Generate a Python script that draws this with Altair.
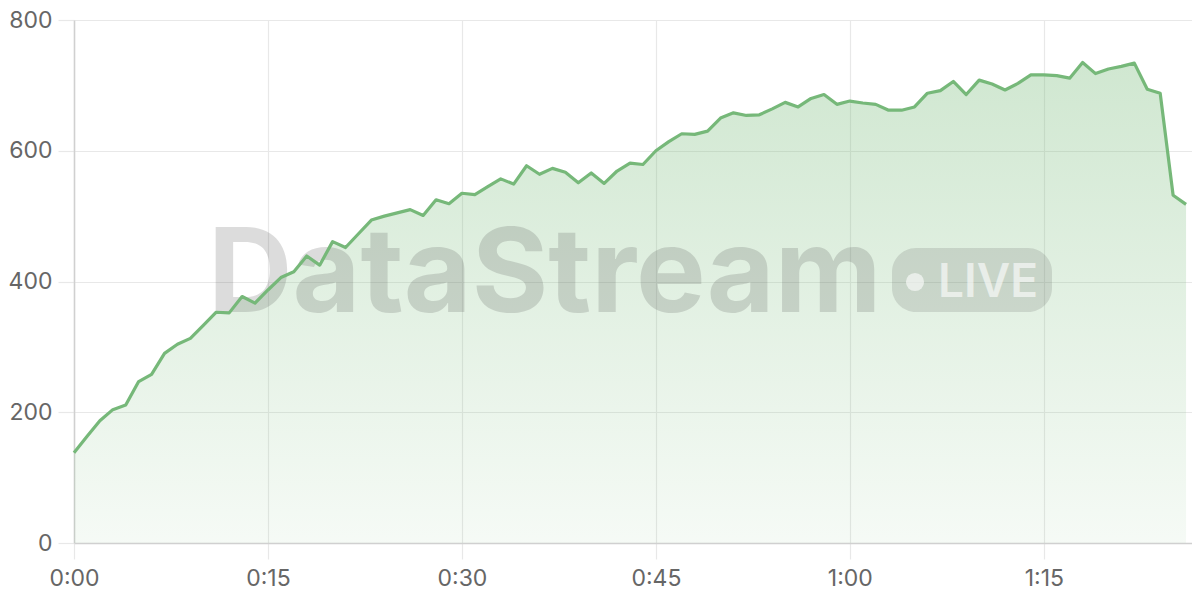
import altair as alt
import pandas as pd

minutes = list(range(87))
values = [138, 163, 187, 204, 211, 247, 258, 290, 304, 313,
          333, 353, 352, 377, 367, 387, 406, 415, 439, 425,
          461, 452, 473, 494, 500, 505, 510, 501, 525, 519,
          535, 533, 545, 557, 549, 577, 564, 573, 567, 551,
          566, 550, 569, 581, 579, 600, 614, 626, 625, 630,
          650, 658, 654, 655, 664, 674, 667, 680, 686, 671,
          676, 673, 671, 662, 662, 667, 688, 692, 706, 686,
          708, 702, 693, 703, 716, 716, 715, 711, 735, 718,
          725, 729, 734, 694, 688, 532, 518]
x_ticks = [0, 15, 30, 45, 60, 75]
y_ticks = [0, 200, 400, 600, 800]
brand = ["DataStream"]
badge = ["LIVE"]

df = pd.DataFrame({"minute": minutes, "value": values})

FONT = "Inter"
x_enc = alt.X("minute:Q",
              scale=alt.Scale(domain=[0, 86.46], nice=False, zero=False),
              axis=alt.Axis(values=x_ticks, title=None, labelFlush=False,
                            labelExpr="floor(datum.value/60) + ':' + (datum.value % 60 < 10 ? '0' : '') + (datum.value % 60)"))
y_enc = alt.Y("value:Q", scale=alt.Scale(domain=[0, 800], nice=False),
              axis=alt.Axis(values=y_ticks, title=None, labelFlush=False))

gradient = alt.Gradient(
    gradient="linear",
    stops=[alt.GradientStop(color="rgba(120,187,122,0.07)", offset=0),
           alt.GradientStop(color="rgba(120,187,122,0.35)", offset=1)],
    x1=1, x2=1, y1=1, y2=0,
)

base = alt.Chart(df)
area = base.mark_area(color=gradient).encode(x=x_enc, y=y_enc)
line = base.mark_line(color="#76b879", strokeWidth=3.2, strokeJoin="round").encode(x=x_enc, y=y_enc)

wm = alt.Chart(pd.DataFrame({"t": brand})).mark_text(
    font=FONT, fontSize=117, fontWeight="bold", align="left", baseline="alphabetic",
    color="#4a4a4a", opacity=0.19
).encode(x=alt.value(134), y=alt.value(292), text="t:N")

pill = alt.Chart(pd.DataFrame({"t": badge})).mark_rect(
    cornerRadius=24, color="#4a4a4a", opacity=0.16
).encode(x=alt.value(818), x2=alt.value(978), y=alt.value(228), y2=alt.value(292))

dot = alt.Chart(pd.DataFrame({"t": badge})).mark_point(
    shape="circle", filled=True, size=330, color="#ffffff", opacity=0.6
).encode(x=alt.value(841), y=alt.value(262))

live = alt.Chart(pd.DataFrame({"t": badge})).mark_text(
    font=FONT, fontSize=46, fontWeight=600, align="left", baseline="alphabetic",
    color="#ffffff", opacity=0.6
).encode(x=alt.value(864), y=alt.value(277), text="t:N")

chart = alt.layer(area, wm, pill, dot, live, line).properties(
    width=1118, height=523,
    autosize="none",
    padding={"left": 66, "top": 12, "right": 0, "bottom": 49},
).configure_view(stroke=None).configure_axis(
    labelFont=FONT, labelFontSize=23, labelColor="#666666",
    gridColor="#e8e8e8", gridWidth=1.2,
    domainColor="#d0d0d0", domainWidth=1.5,
    tickColor="#e8e8e8", tickSize=16, tickWidth=1.2,
).configure_axisX(labelPadding=8).configure_axisY(labelPadding=6)

chart.save("out.html", embed_options={"renderer": "svg", "actions": False})
